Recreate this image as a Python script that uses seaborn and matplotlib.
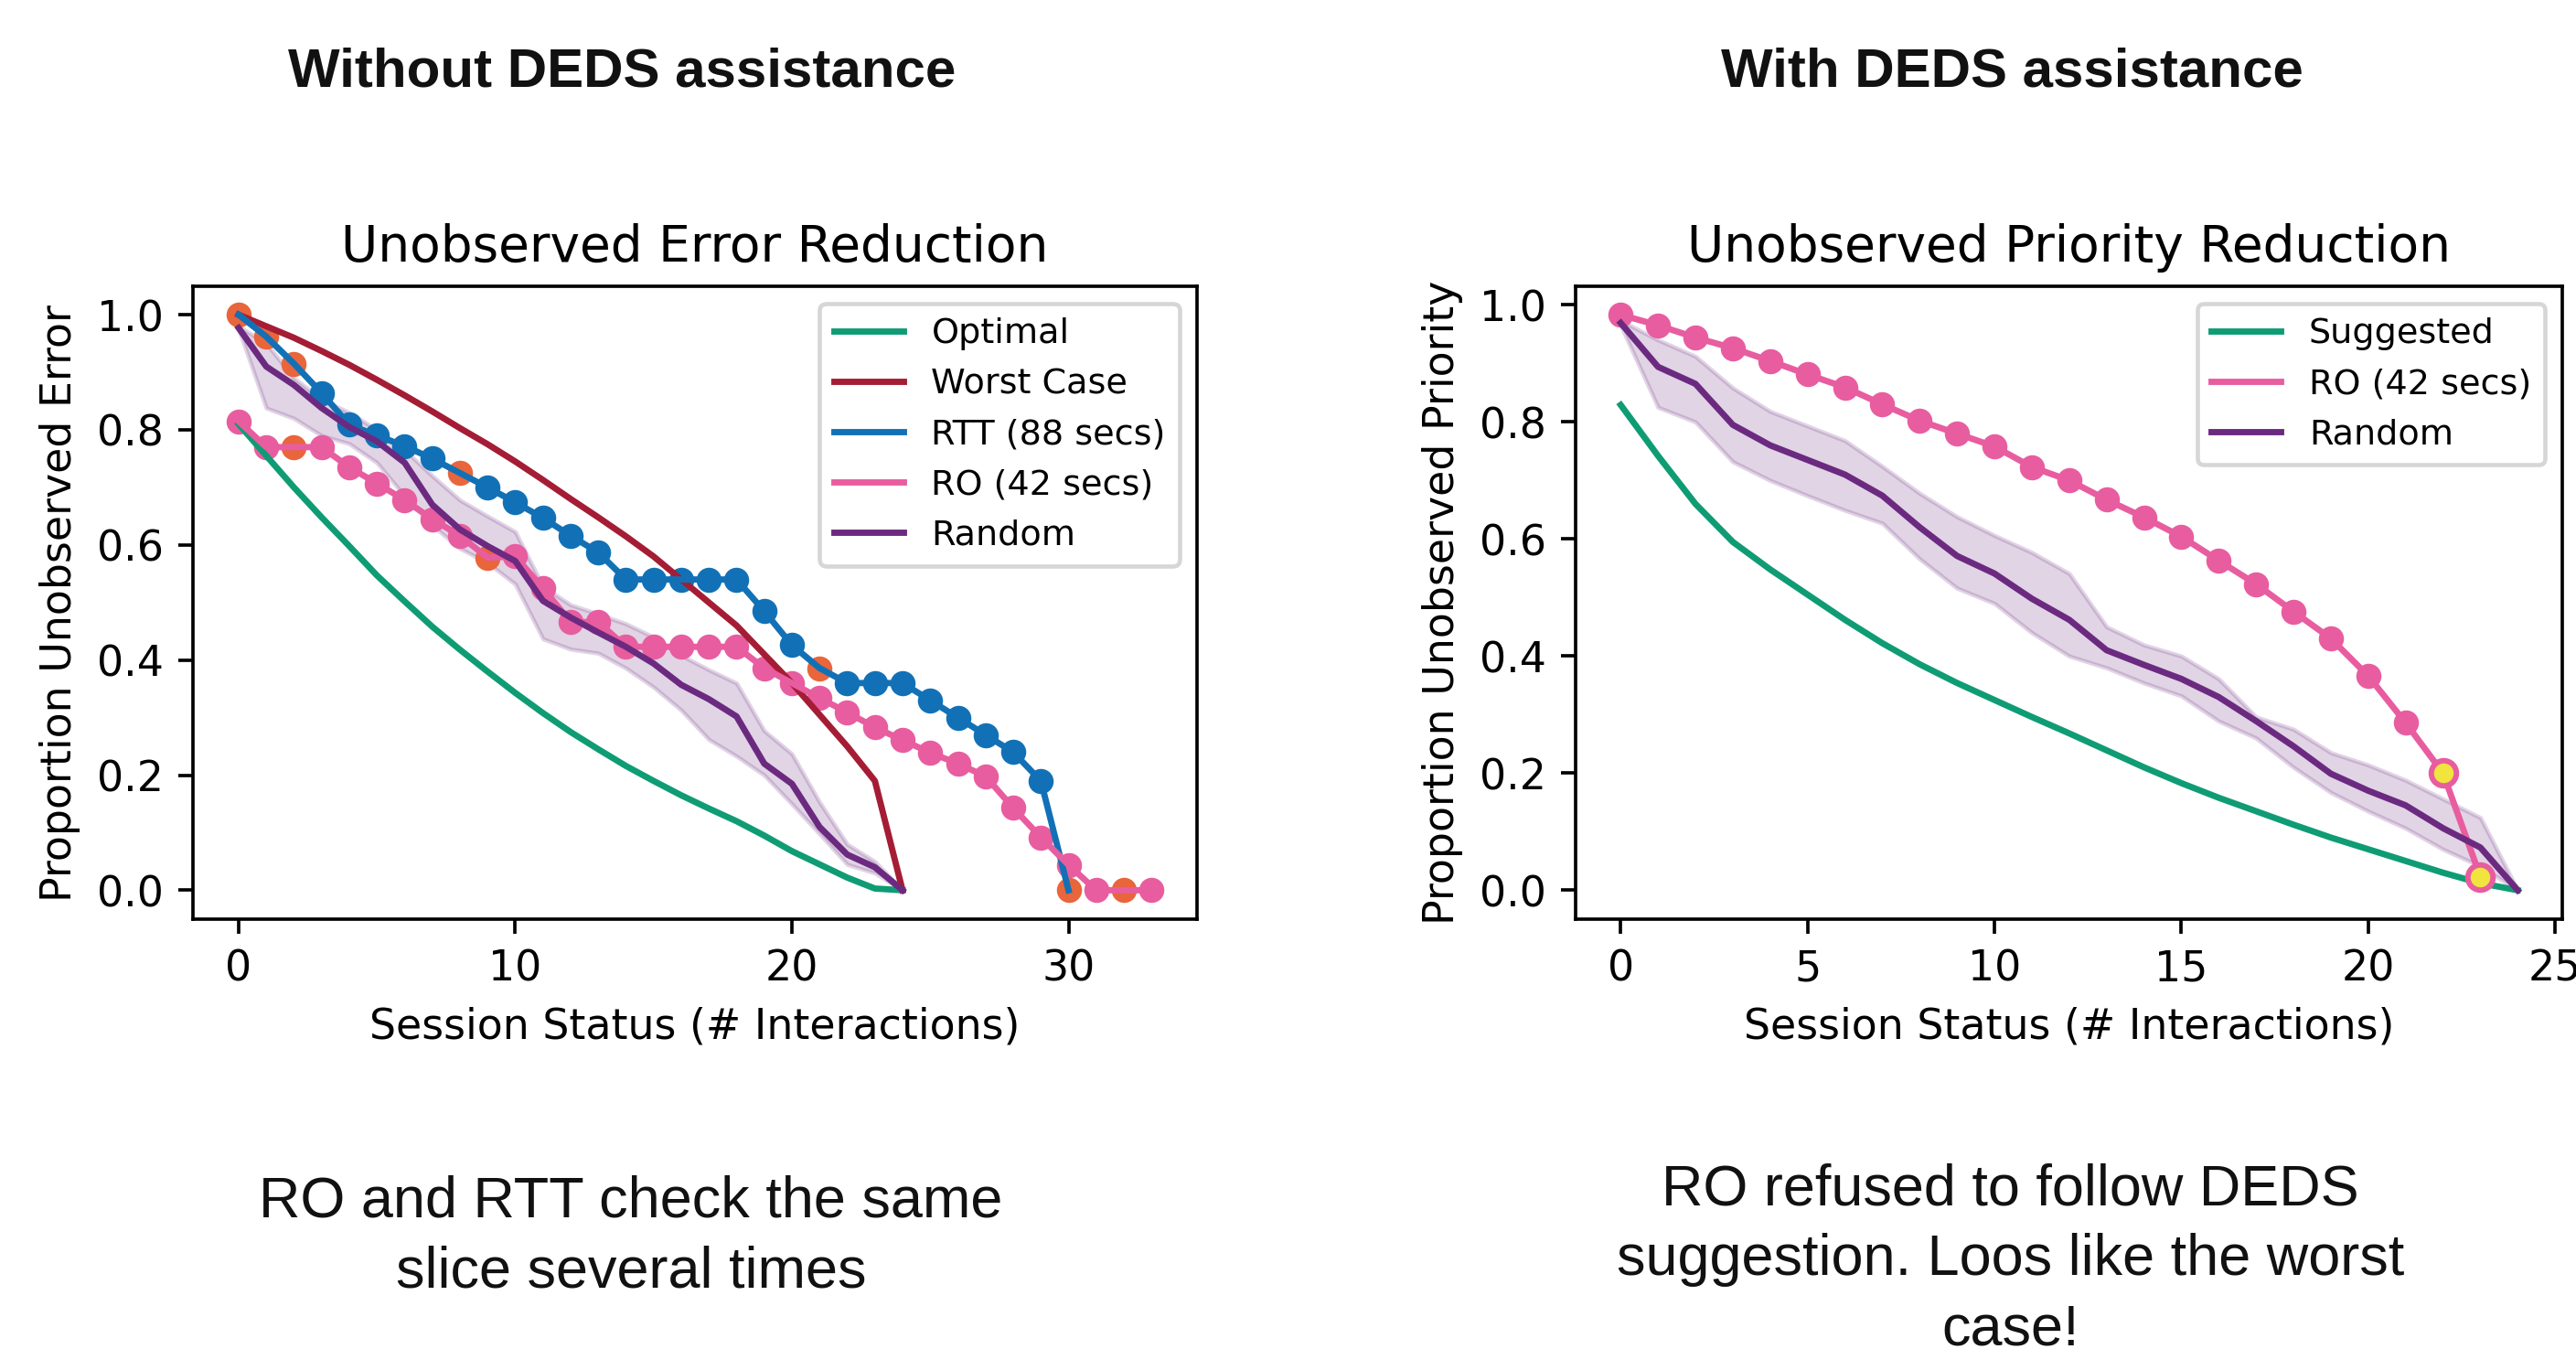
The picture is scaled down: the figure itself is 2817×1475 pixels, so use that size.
import numpy as np
import pandas as pd
import matplotlib
matplotlib.use("Agg")
import matplotlib.pyplot as plt
import seaborn as sns

# ---------------- data ----------------
steps24 = list(range(25))
optimal = [0.81, 0.755, 0.70, 0.648, 0.598, 0.547, 0.502, 0.458, 0.418, 0.38, 0.343,
           0.308, 0.275, 0.245, 0.216, 0.19, 0.165, 0.142, 0.12, 0.095, 0.068, 0.045,
           0.022, 0.003, 0.0]
worst_case = [1.0, 0.98, 0.96, 0.937, 0.913, 0.887, 0.86, 0.832, 0.803, 0.775, 0.745,
              0.713, 0.68, 0.648, 0.615, 0.58, 0.54, 0.50, 0.46, 0.41, 0.36, 0.305,
              0.25, 0.19, 0.0]
rtt_steps = list(range(31))
rtt = [1.0, 0.962, 0.915, 0.864, 0.809, 0.79, 0.772, 0.75, 0.725, 0.70, 0.674, 0.647,
       0.616, 0.587, 0.54, 0.54, 0.54, 0.54, 0.54, 0.485, 0.426, 0.386, 0.36, 0.36,
       0.36, 0.33, 0.30, 0.27, 0.24, 0.19, 0.0]
rtt_repeat_steps = [0, 1, 2, 8, 21, 30]
ro_steps_left = list(range(34))
ro_left = [0.815, 0.77, 0.77, 0.77, 0.735, 0.707, 0.678, 0.645, 0.616, 0.578, 0.58,
           0.525, 0.466, 0.466, 0.423, 0.423, 0.423, 0.423, 0.423, 0.386, 0.36, 0.334,
           0.309, 0.283, 0.261, 0.239, 0.22, 0.198, 0.143, 0.092, 0.044, 0.0, 0.0, 0.0]
ro_repeat_steps = [2, 9, 32]
random_left_mean = [0.977, 0.91, 0.878, 0.838, 0.805, 0.78, 0.743, 0.67, 0.627, 0.598,
                    0.572, 0.503, 0.474, 0.448, 0.423, 0.394, 0.357, 0.332, 0.302, 0.22,
                    0.185, 0.11, 0.062, 0.04, 0.0]
random_left_low = [0.975, 0.838, 0.82, 0.79, 0.776, 0.743, 0.685, 0.634, 0.594, 0.569,
                   0.532, 0.437, 0.419, 0.412, 0.386, 0.353, 0.313, 0.262, 0.233, 0.20,
                   0.15, 0.098, 0.045, 0.03, 0.0]
random_left_high = [0.98, 0.95, 0.89, 0.853, 0.83, 0.80, 0.765, 0.72, 0.678, 0.65,
                    0.623, 0.528, 0.496, 0.48, 0.463, 0.44, 0.408, 0.383, 0.36, 0.277,
                    0.237, 0.153, 0.08, 0.05, 0.0]

suggested = [0.829, 0.742, 0.66, 0.595, 0.548, 0.505, 0.462, 0.422, 0.386, 0.354, 0.325,
             0.296, 0.268, 0.239, 0.21, 0.183, 0.158, 0.135, 0.112, 0.09, 0.07, 0.05,
             0.03, 0.012, 0.0]
ro_steps_right = list(range(24))
ro_right = [0.983, 0.965, 0.944, 0.926, 0.904, 0.881, 0.859, 0.83, 0.802, 0.78, 0.758,
            0.723, 0.70, 0.667, 0.637, 0.604, 0.563, 0.523, 0.476, 0.43, 0.366, 0.286,
            0.20, 0.023]
ro_refused_steps = [22, 23]
random_right_mean = [0.969, 0.894, 0.865, 0.795, 0.76, 0.735, 0.71, 0.674, 0.62, 0.571,
                     0.541, 0.498, 0.462, 0.41, 0.385, 0.361, 0.33, 0.289, 0.246, 0.199,
                     0.17, 0.145, 0.106, 0.073, 0.0]
random_right_low = [0.965, 0.825, 0.80, 0.732, 0.70, 0.674, 0.649, 0.627, 0.566, 0.516,
                    0.49, 0.44, 0.40, 0.38, 0.354, 0.332, 0.289, 0.26, 0.21, 0.167,
                    0.135, 0.106, 0.07, 0.041, 0.0]
random_right_high = [0.973, 0.94, 0.912, 0.858, 0.818, 0.793, 0.768, 0.724, 0.678, 0.638,
                     0.606, 0.577, 0.541, 0.45, 0.419, 0.40, 0.361, 0.296, 0.275, 0.235,
                     0.214, 0.188, 0.156, 0.124, 0.0]

# ---------------- style ----------------
GREEN = "#0f9c74"
WORST = "#a41d35"
BLUE = "#1271b6"
PINK = "#e85d9f"
PURPLE = "#6b2a80"
ORANGE = "#e9653b"
YELLOW = "#f1e43e"

DPI = 330
fig = plt.figure(figsize=(2817.4 / DPI, 1475.4 / DPI), dpi=DPI)
W, H = 2817, 1475
ax1 = fig.add_axes([211 / W, 1 - 1005 / H, 1098 / W, 692 / H])
ax2 = fig.add_axes([1723 / W, 1 - 1005 / H, 1079 / W, 692 / H])


def band_frame(steps, low, mean, high):
    return pd.DataFrame({
        "step": list(steps) * 3,
        "value": list(low) + list(mean) + list(high),
    })


def minmax(v):
    return (v.min(), v.max())


def points(ax, xs, ys, sel, color, z, **kw):
    px = [x for x in xs if x in sel]
    py = [y for x, y in zip(xs, ys) if x in sel]
    sns.scatterplot(x=px, y=py, color=color, s=36, linewidth=kw.pop("lw", 0),
                    zorder=z, legend=False, ax=ax, **kw)


# ---- left panel ----
rtt_normal = [x for x in rtt_steps if x not in rtt_repeat_steps]
ro_normal = [x for x in ro_steps_left if x not in ro_repeat_steps]
points(ax1, rtt_steps, rtt, rtt_repeat_steps, ORANGE, 1.5)
points(ax1, ro_steps_left, ro_left, ro_repeat_steps, ORANGE, 1.5)
points(ax1, rtt_steps, rtt, rtt_normal, BLUE, 1.6)
points(ax1, ro_steps_left, ro_left, ro_normal, PINK, 1.6)

sns.lineplot(x=steps24, y=optimal, color=GREEN, label="Optimal", errorbar=None, ax=ax1)
sns.lineplot(x=steps24, y=worst_case, color=WORST, label="Worst Case", errorbar=None, ax=ax1)
sns.lineplot(x=rtt_steps, y=rtt, color=BLUE, label="RTT (88 secs)", errorbar=None, ax=ax1)
sns.lineplot(x=ro_steps_left, y=ro_left, color=PINK, label="RO (42 secs)", errorbar=None, ax=ax1)
sns.lineplot(data=band_frame(steps24, random_left_low, random_left_mean, random_left_high),
             x="step", y="value", estimator="median", errorbar=minmax,
             color=PURPLE, label="Random", ax=ax1)

ax1.set_title("Unobserved Error Reduction")
ax1.set_xlabel("Session Status (# Interactions)")
ax1.set_ylabel("Proportion Unobserved Error")
ax1.legend(loc="upper right", fontsize="small")

# ---- right panel ----
ro_ok = [x for x in ro_steps_right if x not in ro_refused_steps]
points(ax2, ro_steps_right, ro_right, ro_ok, PINK, 1.6)
sns.lineplot(x=steps24, y=suggested, color=GREEN, label="Suggested", errorbar=None, ax=ax2)
sns.lineplot(x=ro_steps_right, y=ro_right, color=PINK, label="RO (42 secs)", errorbar=None, ax=ax2)
sns.lineplot(data=band_frame(steps24, random_right_low, random_right_mean, random_right_high),
             x="step", y="value", estimator="median", errorbar=minmax,
             color=PURPLE, label="Random", ax=ax2)
points(ax2, ro_steps_right, ro_right, ro_refused_steps, YELLOW, 3,
       lw=1.3, edgecolor=PINK)

ax2.set_title("Unobserved Priority Reduction")
ax2.set_xlabel("Session Status (# Interactions)")
ax2.set_ylabel("Proportion Unobserved Priority")
ax2.legend(loc="upper right", fontsize="small")

# ---- slide texts ----
head = dict(ha="center", va="baseline", fontsize=13.1, fontweight="bold",
            family=["Liberation Sans", "DejaVu Sans"], color="#111111")
fig.text(680 / W, 1 - 94 / H, "Without DEDS assistance", **head)
fig.text(2200 / W, 1 - 94 / H, "With DEDS assistance", **head)

# multi-line texts: y is the baseline of the last line
note = dict(ha="center", va="baseline", fontsize=13.75, linespacing=1.38,
            family=["Liberation Sans", "DejaVu Sans"], color="#111111")
fig.text(690 / W, 1 - 1407 / H, "RO and RTT check the same\nslice several times", **note)
fig.text(2198 / W, 1 - 1470 / H,
         "RO refused to follow DEDS\nsuggestion. Loos like the worst\ncase!", **note)

fig.savefig("out.png", dpi=DPI, facecolor="white")
